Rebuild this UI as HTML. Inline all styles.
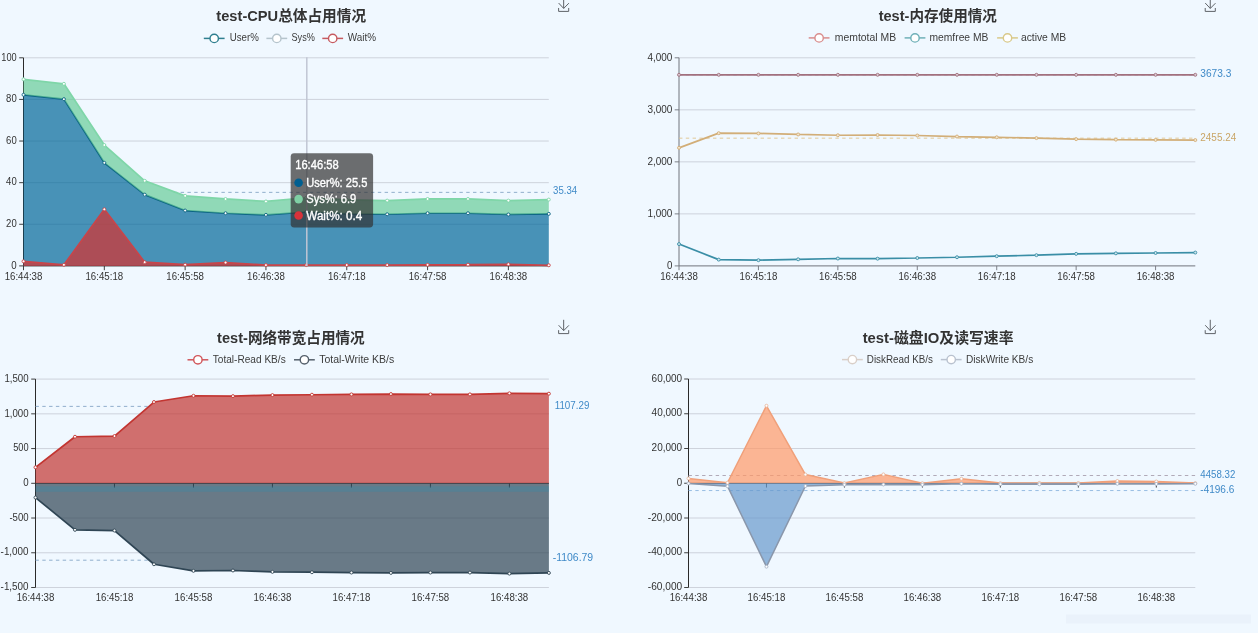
<!DOCTYPE html>
<html lang="zh-CN">
<head>
<meta charset="utf-8">
<title>test - 性能监控</title>
<style>
html,body{margin:0;padding:0;background:#f0f8ff;overflow:hidden}
body{width:1258px;height:633px;font-family:"Liberation Sans","Noto Sans CJK SC",sans-serif}
svg{display:block;filter:blur(0.35px)}
</style>
</head>
<body>
<svg width="1258" height="633" viewBox="0 0 1258 633" font-family='"Liberation Sans","Noto Sans CJK SC",sans-serif'>
<rect width="1258" height="633" fill="#f0f8ff"/>
<text x="291.2" y="21.3" font-size="14.7" fill="#333" text-anchor="middle" font-weight="bold" textLength="149.7" lengthAdjust="spacingAndGlyphs">test-CPU总体占用情况</text>
<line x1="203.8" y1="38.4" x2="224.6" y2="38.4" stroke="#2f7f8f" stroke-width="1.5"/>
<circle cx="214.2" cy="38.4" r="4.2" fill="#fff" stroke="#2f7f8f" stroke-width="1.4"/>
<text x="229.7" y="41.1" font-size="10.2" fill="#3c3c3c" textLength="29.1" lengthAdjust="spacingAndGlyphs">User%</text>
<line x1="266.4" y1="38.4" x2="287.2" y2="38.4" stroke="#b5c4cc" stroke-width="1.5"/>
<circle cx="276.8" cy="38.4" r="4.2" fill="#fff" stroke="#b5c4cc" stroke-width="1.4"/>
<text x="291.5" y="41.1" font-size="10.2" fill="#3c3c3c" textLength="23.4" lengthAdjust="spacingAndGlyphs">Sys%</text>
<line x1="322.3" y1="38.4" x2="343.1" y2="38.4" stroke="#c65a60" stroke-width="1.5"/>
<circle cx="332.7" cy="38.4" r="4.2" fill="#fff" stroke="#c65a60" stroke-width="1.4"/>
<text x="347.8" y="41.1" font-size="10.2" fill="#3c3c3c" textLength="28.3" lengthAdjust="spacingAndGlyphs">Wait%</text>
<g transform="translate(557.67,-2.4)" fill="none" stroke="#5f6368" stroke-width="1" stroke-linecap="butt">
<path d="M0.96,5.45 L6.01,10.83 L11.21,5.57 M0.94,10.37 L0.94,13.8 L11.03,13.8 L11.03,10.37 M5.99,10.73 L5.99,0"/></g>
<line x1="23.5" y1="224.28" x2="548.8" y2="224.28" stroke="#c9ced8" stroke-width="0.9"/>
<line x1="23.5" y1="182.66" x2="548.8" y2="182.66" stroke="#c9ced8" stroke-width="0.9"/>
<line x1="23.5" y1="141.04" x2="548.8" y2="141.04" stroke="#c9ced8" stroke-width="0.9"/>
<line x1="23.5" y1="99.42" x2="548.8" y2="99.42" stroke="#c9ced8" stroke-width="0.9"/>
<line x1="23.5" y1="57.8" x2="548.8" y2="57.8" stroke="#c9ced8" stroke-width="0.9"/>
<line x1="23.5" y1="57.8" x2="23.5" y2="265.9" stroke="#2a2a2a" stroke-width="1.0"/>
<line x1="19.2" y1="265.9" x2="23.5" y2="265.9" stroke="#2a2a2a" stroke-width="0.9"/>
<text x="16.7" y="268.6" font-size="10.5" fill="#333" text-anchor="end" textLength="5.4" lengthAdjust="spacingAndGlyphs">0</text>
<line x1="19.2" y1="224.28" x2="23.5" y2="224.28" stroke="#2a2a2a" stroke-width="0.9"/>
<text x="16.7" y="226.98" font-size="10.5" fill="#333" text-anchor="end" textLength="10.6" lengthAdjust="spacingAndGlyphs">20</text>
<line x1="19.2" y1="182.66" x2="23.5" y2="182.66" stroke="#2a2a2a" stroke-width="0.9"/>
<text x="16.7" y="185.36" font-size="10.5" fill="#333" text-anchor="end" textLength="10.6" lengthAdjust="spacingAndGlyphs">40</text>
<line x1="19.2" y1="141.04" x2="23.5" y2="141.04" stroke="#2a2a2a" stroke-width="0.9"/>
<text x="16.7" y="143.74" font-size="10.5" fill="#333" text-anchor="end" textLength="10.6" lengthAdjust="spacingAndGlyphs">60</text>
<line x1="19.2" y1="99.42" x2="23.5" y2="99.42" stroke="#2a2a2a" stroke-width="0.9"/>
<text x="16.7" y="102.12" font-size="10.5" fill="#333" text-anchor="end" textLength="10.6" lengthAdjust="spacingAndGlyphs">80</text>
<line x1="19.2" y1="57.8" x2="23.5" y2="57.8" stroke="#2a2a2a" stroke-width="0.9"/>
<text x="16.7" y="60.5" font-size="10.5" fill="#333" text-anchor="end" textLength="15.4" lengthAdjust="spacingAndGlyphs">100</text>
<line x1="23.5" y1="265.9" x2="548.8" y2="265.9" stroke="#2a2a2a" stroke-width="1.0"/>
<line x1="23.5" y1="265.9" x2="23.5" y2="270.2" stroke="#2a2a2a" stroke-width="0.9"/>
<text x="23.5" y="279.8" font-size="10.5" fill="#333" text-anchor="middle" textLength="37.7" lengthAdjust="spacingAndGlyphs">16:44:38</text>
<line x1="104.32" y1="265.9" x2="104.32" y2="270.2" stroke="#2a2a2a" stroke-width="0.9"/>
<text x="104.32" y="279.8" font-size="10.5" fill="#333" text-anchor="middle" textLength="37.7" lengthAdjust="spacingAndGlyphs">16:45:18</text>
<line x1="185.13" y1="265.9" x2="185.13" y2="270.2" stroke="#2a2a2a" stroke-width="0.9"/>
<text x="185.13" y="279.8" font-size="10.5" fill="#333" text-anchor="middle" textLength="37.7" lengthAdjust="spacingAndGlyphs">16:45:58</text>
<line x1="265.95" y1="265.9" x2="265.95" y2="270.2" stroke="#2a2a2a" stroke-width="0.9"/>
<text x="265.95" y="279.8" font-size="10.5" fill="#333" text-anchor="middle" textLength="37.7" lengthAdjust="spacingAndGlyphs">16:46:38</text>
<line x1="346.76" y1="265.9" x2="346.76" y2="270.2" stroke="#2a2a2a" stroke-width="0.9"/>
<text x="346.76" y="279.8" font-size="10.5" fill="#333" text-anchor="middle" textLength="37.7" lengthAdjust="spacingAndGlyphs">16:47:18</text>
<line x1="427.58" y1="265.9" x2="427.58" y2="270.2" stroke="#2a2a2a" stroke-width="0.9"/>
<text x="427.58" y="279.8" font-size="10.5" fill="#333" text-anchor="middle" textLength="37.7" lengthAdjust="spacingAndGlyphs">16:47:58</text>
<line x1="508.39" y1="265.9" x2="508.39" y2="270.2" stroke="#2a2a2a" stroke-width="0.9"/>
<text x="508.39" y="279.8" font-size="10.5" fill="#333" text-anchor="middle" textLength="37.7" lengthAdjust="spacingAndGlyphs">16:48:38</text>
<line x1="173.84" y1="192.36" x2="548.8" y2="192.36" stroke="#86a6c6" stroke-width="0.9" stroke-dasharray="3.4 3.4"/>
<path d="M23.5,94.79 L63.91,99.13 L104.32,162.8 L144.72,194.63 L185.13,210.54 L225.54,213.23 L265.95,214.89 L306.35,211.99 L346.76,213.85 L387.17,214.27 L427.58,213.23 L467.98,213.23 L508.39,214.47 L548.8,213.85 L548.8,265.9 L23.5,265.9Z" fill="#006699" fill-opacity="0.7"/>
<path d="M23.5,94.79 L63.91,99.13 L104.32,162.8 L144.72,194.63 L185.13,210.54 L225.54,213.23 L265.95,214.89 L306.35,211.99 L346.76,213.85 L387.17,214.27 L427.58,213.23 L467.98,213.23 L508.39,214.47 L548.8,213.85" fill="none" stroke="#0b6482" stroke-width="1.7" stroke-linejoin="bevel"/>
<path d="M23.5,79.29 L63.91,83.84 L104.32,145.02 L144.72,180.78 L185.13,195.87 L225.54,198.97 L265.95,201.45 L306.35,197.73 L346.76,199.8 L387.17,200.62 L427.58,198.97 L467.98,198.97 L508.39,200.62 L548.8,199.59 L548.8,213.85 L508.39,214.47 L467.98,213.23 L427.58,213.23 L387.17,214.27 L346.76,213.85 L306.35,211.99 L265.95,214.89 L225.54,213.23 L185.13,210.54 L144.72,194.63 L104.32,162.8 L63.91,99.13 L23.5,94.79Z" fill="#66cc99" fill-opacity="0.7"/>
<path d="M23.5,79.29 L63.91,83.84 L104.32,145.02 L144.72,180.78 L185.13,195.87 L225.54,198.97 L265.95,201.45 L306.35,197.73 L346.76,199.8 L387.17,200.62 L427.58,198.97 L467.98,198.97 L508.39,200.62 L548.8,199.59" fill="none" stroke="#7fd6a8" stroke-width="1.7" stroke-linejoin="bevel"/>
<path d="M23.5,261.32 L63.91,264.86 L104.32,209.3 L144.72,262.15 L185.13,264.65 L225.54,262.57 L265.95,265.07 L306.35,265.07 L346.76,265.07 L387.17,265.07 L427.58,264.86 L467.98,264.65 L508.39,264.24 L548.8,265.28 L548.8,265.9 L23.5,265.9Z" fill="#d9302c" fill-opacity="0.7"/>
<path d="M23.5,261.32 L63.91,264.86 L104.32,209.3 L144.72,262.15 L185.13,264.65 L225.54,262.57 L265.95,265.07 L306.35,265.07 L346.76,265.07 L387.17,265.07 L427.58,264.86 L467.98,264.65 L508.39,264.24 L548.8,265.28" fill="none" stroke="#c8454a" stroke-width="1.7" stroke-linejoin="bevel"/>
<circle cx="23.5" cy="94.79" r="1.5" fill="#fff" stroke="#0b6482" stroke-width="0.9"/>
<circle cx="63.91" cy="99.13" r="1.5" fill="#fff" stroke="#0b6482" stroke-width="0.9"/>
<circle cx="104.32" cy="162.8" r="1.5" fill="#fff" stroke="#0b6482" stroke-width="0.9"/>
<circle cx="144.72" cy="194.63" r="1.5" fill="#fff" stroke="#0b6482" stroke-width="0.9"/>
<circle cx="185.13" cy="210.54" r="1.5" fill="#fff" stroke="#0b6482" stroke-width="0.9"/>
<circle cx="225.54" cy="213.23" r="1.5" fill="#fff" stroke="#0b6482" stroke-width="0.9"/>
<circle cx="265.95" cy="214.89" r="1.5" fill="#fff" stroke="#0b6482" stroke-width="0.9"/>
<circle cx="306.35" cy="211.99" r="1.5" fill="#fff" stroke="#0b6482" stroke-width="0.9"/>
<circle cx="346.76" cy="213.85" r="1.5" fill="#fff" stroke="#0b6482" stroke-width="0.9"/>
<circle cx="387.17" cy="214.27" r="1.5" fill="#fff" stroke="#0b6482" stroke-width="0.9"/>
<circle cx="427.58" cy="213.23" r="1.5" fill="#fff" stroke="#0b6482" stroke-width="0.9"/>
<circle cx="467.98" cy="213.23" r="1.5" fill="#fff" stroke="#0b6482" stroke-width="0.9"/>
<circle cx="508.39" cy="214.47" r="1.5" fill="#fff" stroke="#0b6482" stroke-width="0.9"/>
<circle cx="548.8" cy="213.85" r="1.5" fill="#fff" stroke="#0b6482" stroke-width="0.9"/>
<circle cx="23.5" cy="79.29" r="1.5" fill="#fff" stroke="#7fd6a8" stroke-width="0.9"/>
<circle cx="63.91" cy="83.84" r="1.5" fill="#fff" stroke="#7fd6a8" stroke-width="0.9"/>
<circle cx="104.32" cy="145.02" r="1.5" fill="#fff" stroke="#7fd6a8" stroke-width="0.9"/>
<circle cx="144.72" cy="180.78" r="1.5" fill="#fff" stroke="#7fd6a8" stroke-width="0.9"/>
<circle cx="185.13" cy="195.87" r="1.5" fill="#fff" stroke="#7fd6a8" stroke-width="0.9"/>
<circle cx="225.54" cy="198.97" r="1.5" fill="#fff" stroke="#7fd6a8" stroke-width="0.9"/>
<circle cx="265.95" cy="201.45" r="1.5" fill="#fff" stroke="#7fd6a8" stroke-width="0.9"/>
<circle cx="306.35" cy="197.73" r="1.5" fill="#fff" stroke="#7fd6a8" stroke-width="0.9"/>
<circle cx="346.76" cy="199.8" r="1.5" fill="#fff" stroke="#7fd6a8" stroke-width="0.9"/>
<circle cx="387.17" cy="200.62" r="1.5" fill="#fff" stroke="#7fd6a8" stroke-width="0.9"/>
<circle cx="427.58" cy="198.97" r="1.5" fill="#fff" stroke="#7fd6a8" stroke-width="0.9"/>
<circle cx="467.98" cy="198.97" r="1.5" fill="#fff" stroke="#7fd6a8" stroke-width="0.9"/>
<circle cx="508.39" cy="200.62" r="1.5" fill="#fff" stroke="#7fd6a8" stroke-width="0.9"/>
<circle cx="548.8" cy="199.59" r="1.5" fill="#fff" stroke="#7fd6a8" stroke-width="0.9"/>
<circle cx="23.5" cy="261.32" r="1.5" fill="#fff" stroke="#c8454a" stroke-width="0.9"/>
<circle cx="63.91" cy="264.86" r="1.5" fill="#fff" stroke="#c8454a" stroke-width="0.9"/>
<circle cx="104.32" cy="209.3" r="1.5" fill="#fff" stroke="#c8454a" stroke-width="0.9"/>
<circle cx="144.72" cy="262.15" r="1.5" fill="#fff" stroke="#c8454a" stroke-width="0.9"/>
<circle cx="185.13" cy="264.65" r="1.5" fill="#fff" stroke="#c8454a" stroke-width="0.9"/>
<circle cx="225.54" cy="262.57" r="1.5" fill="#fff" stroke="#c8454a" stroke-width="0.9"/>
<circle cx="265.95" cy="265.07" r="1.5" fill="#fff" stroke="#c8454a" stroke-width="0.9"/>
<circle cx="306.35" cy="265.07" r="1.5" fill="#fff" stroke="#c8454a" stroke-width="0.9"/>
<circle cx="346.76" cy="265.07" r="1.5" fill="#fff" stroke="#c8454a" stroke-width="0.9"/>
<circle cx="387.17" cy="265.07" r="1.5" fill="#fff" stroke="#c8454a" stroke-width="0.9"/>
<circle cx="427.58" cy="264.86" r="1.5" fill="#fff" stroke="#c8454a" stroke-width="0.9"/>
<circle cx="467.98" cy="264.65" r="1.5" fill="#fff" stroke="#c8454a" stroke-width="0.9"/>
<circle cx="508.39" cy="264.24" r="1.5" fill="#fff" stroke="#c8454a" stroke-width="0.9"/>
<circle cx="548.8" cy="265.28" r="1.5" fill="#fff" stroke="#c8454a" stroke-width="0.9"/>
<text x="553.1" y="193.96" font-size="10.3" fill="#3f8ac8" textLength="24" lengthAdjust="spacingAndGlyphs">35.34</text>
<line x1="306.8" y1="57.3" x2="306.8" y2="265.9" stroke="#c0c6d4" stroke-width="1.5"/>
<rect x="290.7" y="153.2" width="82.4" height="74.2" rx="3.4" fill="#323232" fill-opacity="0.7"/>
<text x="295.2" y="169.1" font-size="12" fill="#fff" textLength="43.5" lengthAdjust="spacingAndGlyphs" stroke="#fff" stroke-width="0.35">16:46:58</text>
<circle cx="298.6" cy="182.7" r="4.3" fill="#005f91"/>
<text x="306.3" y="186.9" font-size="12" fill="#fff" textLength="61" lengthAdjust="spacingAndGlyphs" stroke="#fff" stroke-width="0.35">User%: 25.5</text>
<circle cx="298.6" cy="199.1" r="4.3" fill="#7fd0a4"/>
<text x="306.3" y="203.3" font-size="12" fill="#fff" textLength="50" lengthAdjust="spacingAndGlyphs" stroke="#fff" stroke-width="0.35">Sys%: 6.9</text>
<circle cx="298.6" cy="215.5" r="4.3" fill="#d8323a"/>
<text x="306.3" y="219.7" font-size="12" fill="#fff" textLength="56" lengthAdjust="spacingAndGlyphs" stroke="#fff" stroke-width="0.35">Wait%: 0.4</text>
<text x="937.8" y="21.3" font-size="14.7" fill="#333" text-anchor="middle" font-weight="bold" textLength="118.3" lengthAdjust="spacingAndGlyphs">test-内存使用情况</text>
<line x1="808.7" y1="37.9" x2="829.5" y2="37.9" stroke="#d98d8d" stroke-width="1.5"/>
<circle cx="819.1" cy="37.9" r="4.2" fill="#fff" stroke="#d98d8d" stroke-width="1.4"/>
<text x="834.8" y="41.1" font-size="10.2" fill="#3c3c3c" textLength="61.3" lengthAdjust="spacingAndGlyphs">memtotal MB</text>
<line x1="904.6" y1="37.9" x2="925.4" y2="37.9" stroke="#6fb0b8" stroke-width="1.5"/>
<circle cx="915" cy="37.9" r="4.2" fill="#fff" stroke="#6fb0b8" stroke-width="1.4"/>
<text x="929.5" y="41.1" font-size="10.2" fill="#3c3c3c" textLength="58.9" lengthAdjust="spacingAndGlyphs">memfree MB</text>
<line x1="997.1" y1="37.9" x2="1017.9" y2="37.9" stroke="#d9c98a" stroke-width="1.5"/>
<circle cx="1007.5" cy="37.9" r="4.2" fill="#fff" stroke="#d9c98a" stroke-width="1.4"/>
<text x="1020.9" y="41.1" font-size="10.2" fill="#3c3c3c" textLength="45.3" lengthAdjust="spacingAndGlyphs">active MB</text>
<g transform="translate(1204.27,-2.4)" fill="none" stroke="#5f6368" stroke-width="1" stroke-linecap="butt">
<path d="M0.96,5.45 L6.01,10.83 L11.21,5.57 M0.94,10.37 L0.94,13.8 L11.03,13.8 L11.03,10.37 M5.99,10.73 L5.99,0"/></g>
<line x1="679" y1="213.88" x2="1195.3" y2="213.88" stroke="#c9ced8" stroke-width="0.9"/>
<line x1="679" y1="161.85" x2="1195.3" y2="161.85" stroke="#c9ced8" stroke-width="0.9"/>
<line x1="679" y1="109.83" x2="1195.3" y2="109.83" stroke="#c9ced8" stroke-width="0.9"/>
<line x1="679" y1="57.8" x2="1195.3" y2="57.8" stroke="#c9ced8" stroke-width="0.9"/>
<line x1="679" y1="57.8" x2="679" y2="265.9" stroke="#70747c" stroke-width="1.0"/>
<line x1="674.7" y1="265.9" x2="679" y2="265.9" stroke="#70747c" stroke-width="0.9"/>
<text x="672.4" y="268.6" font-size="10.5" fill="#333" text-anchor="end" textLength="5.4" lengthAdjust="spacingAndGlyphs">0</text>
<line x1="674.7" y1="213.88" x2="679" y2="213.88" stroke="#70747c" stroke-width="0.9"/>
<text x="672.4" y="216.57" font-size="10.5" fill="#333" text-anchor="end" textLength="25" lengthAdjust="spacingAndGlyphs">1,000</text>
<line x1="674.7" y1="161.85" x2="679" y2="161.85" stroke="#70747c" stroke-width="0.9"/>
<text x="672.4" y="164.55" font-size="10.5" fill="#333" text-anchor="end" textLength="25" lengthAdjust="spacingAndGlyphs">2,000</text>
<line x1="674.7" y1="109.83" x2="679" y2="109.83" stroke="#70747c" stroke-width="0.9"/>
<text x="672.4" y="112.53" font-size="10.5" fill="#333" text-anchor="end" textLength="25" lengthAdjust="spacingAndGlyphs">3,000</text>
<line x1="674.7" y1="57.8" x2="679" y2="57.8" stroke="#70747c" stroke-width="0.9"/>
<text x="672.4" y="60.5" font-size="10.5" fill="#333" text-anchor="end" textLength="25" lengthAdjust="spacingAndGlyphs">4,000</text>
<line x1="679" y1="265.9" x2="1195.3" y2="265.9" stroke="#70747c" stroke-width="1.0"/>
<line x1="679" y1="265.9" x2="679" y2="270.2" stroke="#70747c" stroke-width="0.9"/>
<text x="679" y="279.9" font-size="10.5" fill="#333" text-anchor="middle" textLength="37.7" lengthAdjust="spacingAndGlyphs">16:44:38</text>
<line x1="758.43" y1="265.9" x2="758.43" y2="270.2" stroke="#70747c" stroke-width="0.9"/>
<text x="758.43" y="279.9" font-size="10.5" fill="#333" text-anchor="middle" textLength="37.7" lengthAdjust="spacingAndGlyphs">16:45:18</text>
<line x1="837.86" y1="265.9" x2="837.86" y2="270.2" stroke="#70747c" stroke-width="0.9"/>
<text x="837.86" y="279.9" font-size="10.5" fill="#333" text-anchor="middle" textLength="37.7" lengthAdjust="spacingAndGlyphs">16:45:58</text>
<line x1="917.29" y1="265.9" x2="917.29" y2="270.2" stroke="#70747c" stroke-width="0.9"/>
<text x="917.29" y="279.9" font-size="10.5" fill="#333" text-anchor="middle" textLength="37.7" lengthAdjust="spacingAndGlyphs">16:46:38</text>
<line x1="996.72" y1="265.9" x2="996.72" y2="270.2" stroke="#70747c" stroke-width="0.9"/>
<text x="996.72" y="279.9" font-size="10.5" fill="#333" text-anchor="middle" textLength="37.7" lengthAdjust="spacingAndGlyphs">16:47:18</text>
<line x1="1076.15" y1="265.9" x2="1076.15" y2="270.2" stroke="#70747c" stroke-width="0.9"/>
<text x="1076.15" y="279.9" font-size="10.5" fill="#333" text-anchor="middle" textLength="37.7" lengthAdjust="spacingAndGlyphs">16:47:58</text>
<line x1="1155.58" y1="265.9" x2="1155.58" y2="270.2" stroke="#70747c" stroke-width="0.9"/>
<text x="1155.58" y="279.9" font-size="10.5" fill="#333" text-anchor="middle" textLength="37.7" lengthAdjust="spacingAndGlyphs">16:48:38</text>
<line x1="679" y1="74.8" x2="1195.3" y2="74.8" stroke="#7f9fd0" stroke-width="0.9" stroke-dasharray="3.4 3.4"/>
<path d="M679,74.8 L718.72,74.8 L758.43,74.8 L798.15,74.8 L837.86,74.8 L877.58,74.8 L917.29,74.8 L957.01,74.8 L996.72,74.8 L1036.44,74.8 L1076.15,74.8 L1115.87,74.8 L1155.58,74.8 L1195.3,74.8" fill="none" stroke="#a2707e" stroke-width="1.7" stroke-linejoin="bevel"/>
<circle cx="679" cy="74.8" r="1.5" fill="#d9ccd4" stroke="#a2707e" stroke-width="0.9"/>
<circle cx="718.72" cy="74.8" r="1.5" fill="#d9ccd4" stroke="#a2707e" stroke-width="0.9"/>
<circle cx="758.43" cy="74.8" r="1.5" fill="#d9ccd4" stroke="#a2707e" stroke-width="0.9"/>
<circle cx="798.15" cy="74.8" r="1.5" fill="#d9ccd4" stroke="#a2707e" stroke-width="0.9"/>
<circle cx="837.86" cy="74.8" r="1.5" fill="#d9ccd4" stroke="#a2707e" stroke-width="0.9"/>
<circle cx="877.58" cy="74.8" r="1.5" fill="#d9ccd4" stroke="#a2707e" stroke-width="0.9"/>
<circle cx="917.29" cy="74.8" r="1.5" fill="#d9ccd4" stroke="#a2707e" stroke-width="0.9"/>
<circle cx="957.01" cy="74.8" r="1.5" fill="#d9ccd4" stroke="#a2707e" stroke-width="0.9"/>
<circle cx="996.72" cy="74.8" r="1.5" fill="#d9ccd4" stroke="#a2707e" stroke-width="0.9"/>
<circle cx="1036.44" cy="74.8" r="1.5" fill="#d9ccd4" stroke="#a2707e" stroke-width="0.9"/>
<circle cx="1076.15" cy="74.8" r="1.5" fill="#d9ccd4" stroke="#a2707e" stroke-width="0.9"/>
<circle cx="1115.87" cy="74.8" r="1.5" fill="#d9ccd4" stroke="#a2707e" stroke-width="0.9"/>
<circle cx="1155.58" cy="74.8" r="1.5" fill="#d9ccd4" stroke="#a2707e" stroke-width="0.9"/>
<circle cx="1195.3" cy="74.8" r="1.5" fill="#d9ccd4" stroke="#a2707e" stroke-width="0.9"/>
<path d="M679,244.07 L718.72,259.61 L758.43,260.18 L798.15,259.3 L837.86,258.52 L877.58,258.68 L917.29,258.01 L957.01,257.23 L996.72,256.19 L1036.44,255.16 L1076.15,253.86 L1115.87,253.34 L1155.58,252.98 L1195.3,252.57" fill="none" stroke="#3a8ea6" stroke-width="1.7" stroke-linejoin="bevel"/>
<circle cx="679" cy="244.07" r="1.5" fill="#cfe6ee" stroke="#3a8ea6" stroke-width="0.9"/>
<circle cx="718.72" cy="259.61" r="1.5" fill="#cfe6ee" stroke="#3a8ea6" stroke-width="0.9"/>
<circle cx="758.43" cy="260.18" r="1.5" fill="#cfe6ee" stroke="#3a8ea6" stroke-width="0.9"/>
<circle cx="798.15" cy="259.3" r="1.5" fill="#cfe6ee" stroke="#3a8ea6" stroke-width="0.9"/>
<circle cx="837.86" cy="258.52" r="1.5" fill="#cfe6ee" stroke="#3a8ea6" stroke-width="0.9"/>
<circle cx="877.58" cy="258.68" r="1.5" fill="#cfe6ee" stroke="#3a8ea6" stroke-width="0.9"/>
<circle cx="917.29" cy="258.01" r="1.5" fill="#cfe6ee" stroke="#3a8ea6" stroke-width="0.9"/>
<circle cx="957.01" cy="257.23" r="1.5" fill="#cfe6ee" stroke="#3a8ea6" stroke-width="0.9"/>
<circle cx="996.72" cy="256.19" r="1.5" fill="#cfe6ee" stroke="#3a8ea6" stroke-width="0.9"/>
<circle cx="1036.44" cy="255.16" r="1.5" fill="#cfe6ee" stroke="#3a8ea6" stroke-width="0.9"/>
<circle cx="1076.15" cy="253.86" r="1.5" fill="#cfe6ee" stroke="#3a8ea6" stroke-width="0.9"/>
<circle cx="1115.87" cy="253.34" r="1.5" fill="#cfe6ee" stroke="#3a8ea6" stroke-width="0.9"/>
<circle cx="1155.58" cy="252.98" r="1.5" fill="#cfe6ee" stroke="#3a8ea6" stroke-width="0.9"/>
<circle cx="1195.3" cy="252.57" r="1.5" fill="#cfe6ee" stroke="#3a8ea6" stroke-width="0.9"/>
<line x1="679" y1="138.17" x2="1195.3" y2="138.17" stroke="#e0c48c" stroke-width="0.9" stroke-dasharray="3.4 3.4"/>
<path d="M679,147.83 L718.72,133.17 L758.43,133.43 L798.15,134.46 L837.86,135.24 L877.58,134.98 L917.29,135.5 L957.01,136.54 L996.72,137.31 L1036.44,138.09 L1076.15,139.13 L1115.87,139.64 L1155.58,139.9 L1195.3,140.06" fill="none" stroke="#d2ae78" stroke-width="1.7" stroke-linejoin="bevel"/>
<circle cx="679" cy="147.83" r="1.5" fill="#f3e6cf" stroke="#d2ae78" stroke-width="0.9"/>
<circle cx="718.72" cy="133.17" r="1.5" fill="#f3e6cf" stroke="#d2ae78" stroke-width="0.9"/>
<circle cx="758.43" cy="133.43" r="1.5" fill="#f3e6cf" stroke="#d2ae78" stroke-width="0.9"/>
<circle cx="798.15" cy="134.46" r="1.5" fill="#f3e6cf" stroke="#d2ae78" stroke-width="0.9"/>
<circle cx="837.86" cy="135.24" r="1.5" fill="#f3e6cf" stroke="#d2ae78" stroke-width="0.9"/>
<circle cx="877.58" cy="134.98" r="1.5" fill="#f3e6cf" stroke="#d2ae78" stroke-width="0.9"/>
<circle cx="917.29" cy="135.5" r="1.5" fill="#f3e6cf" stroke="#d2ae78" stroke-width="0.9"/>
<circle cx="957.01" cy="136.54" r="1.5" fill="#f3e6cf" stroke="#d2ae78" stroke-width="0.9"/>
<circle cx="996.72" cy="137.31" r="1.5" fill="#f3e6cf" stroke="#d2ae78" stroke-width="0.9"/>
<circle cx="1036.44" cy="138.09" r="1.5" fill="#f3e6cf" stroke="#d2ae78" stroke-width="0.9"/>
<circle cx="1076.15" cy="139.13" r="1.5" fill="#f3e6cf" stroke="#d2ae78" stroke-width="0.9"/>
<circle cx="1115.87" cy="139.64" r="1.5" fill="#f3e6cf" stroke="#d2ae78" stroke-width="0.9"/>
<circle cx="1155.58" cy="139.9" r="1.5" fill="#f3e6cf" stroke="#d2ae78" stroke-width="0.9"/>
<circle cx="1195.3" cy="140.06" r="1.5" fill="#f3e6cf" stroke="#d2ae78" stroke-width="0.9"/>
<text x="1200.3" y="77.2" font-size="10.3" fill="#3f8ac8" textLength="31" lengthAdjust="spacingAndGlyphs">3673.3</text>
<text x="1200.3" y="140.87" font-size="10.3" fill="#c9a566" textLength="36" lengthAdjust="spacingAndGlyphs">2455.24</text>
<text x="290.9" y="343.1" font-size="14.7" fill="#333" text-anchor="middle" font-weight="bold" textLength="147.6" lengthAdjust="spacingAndGlyphs">test-网络带宽占用情况</text>
<line x1="187.5" y1="359.8" x2="208.3" y2="359.8" stroke="#d0555a" stroke-width="1.5"/>
<circle cx="197.9" cy="359.8" r="4.2" fill="#fff" stroke="#d0555a" stroke-width="1.4"/>
<text x="212.8" y="363.4" font-size="10.2" fill="#3c3c3c" textLength="72.9" lengthAdjust="spacingAndGlyphs">Total-Read KB/s</text>
<line x1="294" y1="359.8" x2="314.8" y2="359.8" stroke="#55606c" stroke-width="1.5"/>
<circle cx="304.4" cy="359.8" r="4.2" fill="#fff" stroke="#55606c" stroke-width="1.4"/>
<text x="319.2" y="363.4" font-size="10.2" fill="#3c3c3c" textLength="75.1" lengthAdjust="spacingAndGlyphs">Total-Write KB/s</text>
<g transform="translate(557.67,319.8)" fill="none" stroke="#5f6368" stroke-width="1" stroke-linecap="butt">
<path d="M0.96,5.45 L6.01,10.83 L11.21,5.57 M0.94,10.37 L0.94,13.8 L11.03,13.8 L11.03,10.37 M5.99,10.73 L5.99,0"/></g>
<line x1="35.5" y1="587.5" x2="548.9" y2="587.5" stroke="#c9ced8" stroke-width="0.9"/>
<line x1="35.5" y1="552.77" x2="548.9" y2="552.77" stroke="#c9ced8" stroke-width="0.9"/>
<line x1="35.5" y1="518.03" x2="548.9" y2="518.03" stroke="#c9ced8" stroke-width="0.9"/>
<line x1="35.5" y1="448.57" x2="548.9" y2="448.57" stroke="#c9ced8" stroke-width="0.9"/>
<line x1="35.5" y1="413.83" x2="548.9" y2="413.83" stroke="#c9ced8" stroke-width="0.9"/>
<line x1="35.5" y1="379.1" x2="548.9" y2="379.1" stroke="#c9ced8" stroke-width="0.9"/>
<line x1="35.5" y1="379.1" x2="35.5" y2="587.5" stroke="#2a2a2a" stroke-width="1.0"/>
<line x1="31.2" y1="587.5" x2="35.5" y2="587.5" stroke="#2a2a2a" stroke-width="0.9"/>
<text x="28.6" y="590.2" font-size="10.5" fill="#333" text-anchor="end" textLength="28" lengthAdjust="spacingAndGlyphs">-1,500</text>
<line x1="31.2" y1="552.77" x2="35.5" y2="552.77" stroke="#2a2a2a" stroke-width="0.9"/>
<text x="28.6" y="555.47" font-size="10.5" fill="#333" text-anchor="end" textLength="28" lengthAdjust="spacingAndGlyphs">-1,000</text>
<line x1="31.2" y1="518.03" x2="35.5" y2="518.03" stroke="#2a2a2a" stroke-width="0.9"/>
<text x="28.6" y="520.73" font-size="10.5" fill="#333" text-anchor="end" textLength="19.2" lengthAdjust="spacingAndGlyphs">-500</text>
<line x1="31.2" y1="483.3" x2="35.5" y2="483.3" stroke="#2a2a2a" stroke-width="0.9"/>
<text x="28.6" y="486" font-size="10.5" fill="#333" text-anchor="end" textLength="5.4" lengthAdjust="spacingAndGlyphs">0</text>
<line x1="31.2" y1="448.57" x2="35.5" y2="448.57" stroke="#2a2a2a" stroke-width="0.9"/>
<text x="28.6" y="451.27" font-size="10.5" fill="#333" text-anchor="end" textLength="15.4" lengthAdjust="spacingAndGlyphs">500</text>
<line x1="31.2" y1="413.83" x2="35.5" y2="413.83" stroke="#2a2a2a" stroke-width="0.9"/>
<text x="28.6" y="416.53" font-size="10.5" fill="#333" text-anchor="end" textLength="24.2" lengthAdjust="spacingAndGlyphs">1,000</text>
<line x1="31.2" y1="379.1" x2="35.5" y2="379.1" stroke="#2a2a2a" stroke-width="0.9"/>
<text x="28.6" y="381.8" font-size="10.5" fill="#333" text-anchor="end" textLength="24.2" lengthAdjust="spacingAndGlyphs">1,500</text>
<line x1="35.5" y1="483.3" x2="548.9" y2="483.3" stroke="#2a2a2a" stroke-width="1.0"/>
<line x1="35.5" y1="483.3" x2="35.5" y2="487.6" stroke="#2a2a2a" stroke-width="0.9"/>
<text x="35.5" y="600.7" font-size="10.5" fill="#333" text-anchor="middle" textLength="37.7" lengthAdjust="spacingAndGlyphs">16:44:38</text>
<line x1="114.48" y1="483.3" x2="114.48" y2="487.6" stroke="#2a2a2a" stroke-width="0.9"/>
<text x="114.48" y="600.7" font-size="10.5" fill="#333" text-anchor="middle" textLength="37.7" lengthAdjust="spacingAndGlyphs">16:45:18</text>
<line x1="193.47" y1="483.3" x2="193.47" y2="487.6" stroke="#2a2a2a" stroke-width="0.9"/>
<text x="193.47" y="600.7" font-size="10.5" fill="#333" text-anchor="middle" textLength="37.7" lengthAdjust="spacingAndGlyphs">16:45:58</text>
<line x1="272.45" y1="483.3" x2="272.45" y2="487.6" stroke="#2a2a2a" stroke-width="0.9"/>
<text x="272.45" y="600.7" font-size="10.5" fill="#333" text-anchor="middle" textLength="37.7" lengthAdjust="spacingAndGlyphs">16:46:38</text>
<line x1="351.44" y1="483.3" x2="351.44" y2="487.6" stroke="#2a2a2a" stroke-width="0.9"/>
<text x="351.44" y="600.7" font-size="10.5" fill="#333" text-anchor="middle" textLength="37.7" lengthAdjust="spacingAndGlyphs">16:47:18</text>
<line x1="430.42" y1="483.3" x2="430.42" y2="487.6" stroke="#2a2a2a" stroke-width="0.9"/>
<text x="430.42" y="600.7" font-size="10.5" fill="#333" text-anchor="middle" textLength="37.7" lengthAdjust="spacingAndGlyphs">16:47:58</text>
<line x1="509.41" y1="483.3" x2="509.41" y2="487.6" stroke="#2a2a2a" stroke-width="0.9"/>
<text x="509.41" y="600.7" font-size="10.5" fill="#333" text-anchor="middle" textLength="37.7" lengthAdjust="spacingAndGlyphs">16:48:38</text>
<line x1="35.5" y1="406.38" x2="148.92" y2="406.38" stroke="#86a6c6" stroke-width="0.9" stroke-dasharray="3.4 3.4"/>
<line x1="35.5" y1="560.19" x2="149.24" y2="560.19" stroke="#86a6c6" stroke-width="0.9" stroke-dasharray="3.4 3.4"/>
<path d="M35.5,467.32 L74.99,436.76 L114.48,436.06 L153.98,402.02 L193.47,395.77 L232.96,396.12 L272.45,395.08 L311.95,394.73 L351.44,394.38 L390.93,394.04 L430.42,394.38 L469.92,394.38 L509.41,393.34 L548.9,393.69 L548.9,483.3 L35.5,483.3Z" fill="#c23531" fill-opacity="0.7"/>
<path d="M35.5,467.32 L74.99,436.76 L114.48,436.06 L153.98,402.02 L193.47,395.77 L232.96,396.12 L272.45,395.08 L311.95,394.73 L351.44,394.38 L390.93,394.04 L430.42,394.38 L469.92,394.38 L509.41,393.34 L548.9,393.69" fill="none" stroke="#c23531" stroke-width="1.7" stroke-linejoin="bevel"/>
<path d="M35.5,497.54 L74.99,529.84 L114.48,530.54 L153.98,564.23 L193.47,570.83 L232.96,570.48 L272.45,571.87 L311.95,572.22 L351.44,572.56 L390.93,572.91 L430.42,572.56 L469.92,572.56 L509.41,573.61 L548.9,572.91 L548.9,483.3 L35.5,483.3Z" fill="#2f4554" fill-opacity="0.7"/>
<path d="M35.5,497.54 L74.99,529.84 L114.48,530.54 L153.98,564.23 L193.47,570.83 L232.96,570.48 L272.45,571.87 L311.95,572.22 L351.44,572.56 L390.93,572.91 L430.42,572.56 L469.92,572.56 L509.41,573.61 L548.9,572.91" fill="none" stroke="#2f4554" stroke-width="1.7" stroke-linejoin="bevel"/>
<rect x="35.5" y="486.3" width="513.4" height="5.5" fill="#2e8db0" fill-opacity="0.3"/>
<circle cx="35.5" cy="467.32" r="1.5" fill="#fff" stroke="#c23531" stroke-width="0.9"/>
<circle cx="74.99" cy="436.76" r="1.5" fill="#fff" stroke="#c23531" stroke-width="0.9"/>
<circle cx="114.48" cy="436.06" r="1.5" fill="#fff" stroke="#c23531" stroke-width="0.9"/>
<circle cx="153.98" cy="402.02" r="1.5" fill="#fff" stroke="#c23531" stroke-width="0.9"/>
<circle cx="193.47" cy="395.77" r="1.5" fill="#fff" stroke="#c23531" stroke-width="0.9"/>
<circle cx="232.96" cy="396.12" r="1.5" fill="#fff" stroke="#c23531" stroke-width="0.9"/>
<circle cx="272.45" cy="395.08" r="1.5" fill="#fff" stroke="#c23531" stroke-width="0.9"/>
<circle cx="311.95" cy="394.73" r="1.5" fill="#fff" stroke="#c23531" stroke-width="0.9"/>
<circle cx="351.44" cy="394.38" r="1.5" fill="#fff" stroke="#c23531" stroke-width="0.9"/>
<circle cx="390.93" cy="394.04" r="1.5" fill="#fff" stroke="#c23531" stroke-width="0.9"/>
<circle cx="430.42" cy="394.38" r="1.5" fill="#fff" stroke="#c23531" stroke-width="0.9"/>
<circle cx="469.92" cy="394.38" r="1.5" fill="#fff" stroke="#c23531" stroke-width="0.9"/>
<circle cx="509.41" cy="393.34" r="1.5" fill="#fff" stroke="#c23531" stroke-width="0.9"/>
<circle cx="548.9" cy="393.69" r="1.5" fill="#fff" stroke="#c23531" stroke-width="0.9"/>
<circle cx="35.5" cy="497.54" r="1.5" fill="#fff" stroke="#2f4554" stroke-width="0.9"/>
<circle cx="74.99" cy="529.84" r="1.5" fill="#fff" stroke="#2f4554" stroke-width="0.9"/>
<circle cx="114.48" cy="530.54" r="1.5" fill="#fff" stroke="#2f4554" stroke-width="0.9"/>
<circle cx="153.98" cy="564.23" r="1.5" fill="#fff" stroke="#2f4554" stroke-width="0.9"/>
<circle cx="193.47" cy="570.83" r="1.5" fill="#fff" stroke="#2f4554" stroke-width="0.9"/>
<circle cx="232.96" cy="570.48" r="1.5" fill="#fff" stroke="#2f4554" stroke-width="0.9"/>
<circle cx="272.45" cy="571.87" r="1.5" fill="#fff" stroke="#2f4554" stroke-width="0.9"/>
<circle cx="311.95" cy="572.22" r="1.5" fill="#fff" stroke="#2f4554" stroke-width="0.9"/>
<circle cx="351.44" cy="572.56" r="1.5" fill="#fff" stroke="#2f4554" stroke-width="0.9"/>
<circle cx="390.93" cy="572.91" r="1.5" fill="#fff" stroke="#2f4554" stroke-width="0.9"/>
<circle cx="430.42" cy="572.56" r="1.5" fill="#fff" stroke="#2f4554" stroke-width="0.9"/>
<circle cx="469.92" cy="572.56" r="1.5" fill="#fff" stroke="#2f4554" stroke-width="0.9"/>
<circle cx="509.41" cy="573.61" r="1.5" fill="#fff" stroke="#2f4554" stroke-width="0.9"/>
<circle cx="548.9" cy="572.91" r="1.5" fill="#fff" stroke="#2f4554" stroke-width="0.9"/>
<text x="554.7" y="408.58" font-size="10.3" fill="#3f8ac8" textLength="34.7" lengthAdjust="spacingAndGlyphs">1107.29</text>
<text x="552.7" y="561.29" font-size="10.3" fill="#3f8ac8" textLength="40.5" lengthAdjust="spacingAndGlyphs">-1106.79</text>
<text x="938.1" y="343.1" font-size="14.7" fill="#333" text-anchor="middle" font-weight="bold" textLength="150.9" lengthAdjust="spacingAndGlyphs">test-磁盘IO及读写速率</text>
<line x1="842" y1="359.6" x2="862.8" y2="359.6" stroke="#d9cfc8" stroke-width="1.5"/>
<circle cx="852.4" cy="359.6" r="4.2" fill="#fff" stroke="#d9cfc8" stroke-width="1.4"/>
<text x="866.8" y="363.2" font-size="10.2" fill="#3c3c3c" textLength="66.2" lengthAdjust="spacingAndGlyphs">DiskRead KB/s</text>
<line x1="940.8" y1="359.6" x2="961.6" y2="359.6" stroke="#b9c2cf" stroke-width="1.5"/>
<circle cx="951.2" cy="359.6" r="4.2" fill="#fff" stroke="#b9c2cf" stroke-width="1.4"/>
<text x="966" y="363.2" font-size="10.2" fill="#3c3c3c" textLength="67.2" lengthAdjust="spacingAndGlyphs">DiskWrite KB/s</text>
<g transform="translate(1204.27,319.8)" fill="none" stroke="#5f6368" stroke-width="1" stroke-linecap="butt">
<path d="M0.96,5.45 L6.01,10.83 L11.21,5.57 M0.94,10.37 L0.94,13.8 L11.03,13.8 L11.03,10.37 M5.99,10.73 L5.99,0"/></g>
<line x1="688.5" y1="587.5" x2="1195.3" y2="587.5" stroke="#c9ced8" stroke-width="0.9"/>
<line x1="688.5" y1="552.75" x2="1195.3" y2="552.75" stroke="#c9ced8" stroke-width="0.9"/>
<line x1="688.5" y1="518" x2="1195.3" y2="518" stroke="#c9ced8" stroke-width="0.9"/>
<line x1="688.5" y1="448.5" x2="1195.3" y2="448.5" stroke="#c9ced8" stroke-width="0.9"/>
<line x1="688.5" y1="413.75" x2="1195.3" y2="413.75" stroke="#c9ced8" stroke-width="0.9"/>
<line x1="688.5" y1="379" x2="1195.3" y2="379" stroke="#c9ced8" stroke-width="0.9"/>
<line x1="688.5" y1="379" x2="688.5" y2="587.5" stroke="#2a2a2a" stroke-width="1.0"/>
<line x1="684.2" y1="587.5" x2="688.5" y2="587.5" stroke="#2a2a2a" stroke-width="0.9"/>
<text x="682.2" y="590.2" font-size="10.5" fill="#333" text-anchor="end" textLength="34.4" lengthAdjust="spacingAndGlyphs">-60,000</text>
<line x1="684.2" y1="552.75" x2="688.5" y2="552.75" stroke="#2a2a2a" stroke-width="0.9"/>
<text x="682.2" y="555.45" font-size="10.5" fill="#333" text-anchor="end" textLength="34.4" lengthAdjust="spacingAndGlyphs">-40,000</text>
<line x1="684.2" y1="518" x2="688.5" y2="518" stroke="#2a2a2a" stroke-width="0.9"/>
<text x="682.2" y="520.7" font-size="10.5" fill="#333" text-anchor="end" textLength="34.4" lengthAdjust="spacingAndGlyphs">-20,000</text>
<line x1="684.2" y1="483.25" x2="688.5" y2="483.25" stroke="#2a2a2a" stroke-width="0.9"/>
<text x="682.2" y="485.95" font-size="10.5" fill="#333" text-anchor="end" textLength="5.4" lengthAdjust="spacingAndGlyphs">0</text>
<line x1="684.2" y1="448.5" x2="688.5" y2="448.5" stroke="#2a2a2a" stroke-width="0.9"/>
<text x="682.2" y="451.2" font-size="10.5" fill="#333" text-anchor="end" textLength="30.6" lengthAdjust="spacingAndGlyphs">20,000</text>
<line x1="684.2" y1="413.75" x2="688.5" y2="413.75" stroke="#2a2a2a" stroke-width="0.9"/>
<text x="682.2" y="416.45" font-size="10.5" fill="#333" text-anchor="end" textLength="30.6" lengthAdjust="spacingAndGlyphs">40,000</text>
<line x1="684.2" y1="379" x2="688.5" y2="379" stroke="#2a2a2a" stroke-width="0.9"/>
<text x="682.2" y="381.7" font-size="10.5" fill="#333" text-anchor="end" textLength="30.6" lengthAdjust="spacingAndGlyphs">60,000</text>
<line x1="688.5" y1="483.25" x2="1195.3" y2="483.25" stroke="#2a2a2a" stroke-width="1.0"/>
<line x1="688.5" y1="483.25" x2="688.5" y2="487.55" stroke="#2a2a2a" stroke-width="0.9"/>
<text x="688.5" y="600.7" font-size="10.5" fill="#333" text-anchor="middle" textLength="37.7" lengthAdjust="spacingAndGlyphs">16:44:38</text>
<line x1="766.47" y1="483.25" x2="766.47" y2="487.55" stroke="#2a2a2a" stroke-width="0.9"/>
<text x="766.47" y="600.7" font-size="10.5" fill="#333" text-anchor="middle" textLength="37.7" lengthAdjust="spacingAndGlyphs">16:45:18</text>
<line x1="844.44" y1="483.25" x2="844.44" y2="487.55" stroke="#2a2a2a" stroke-width="0.9"/>
<text x="844.44" y="600.7" font-size="10.5" fill="#333" text-anchor="middle" textLength="37.7" lengthAdjust="spacingAndGlyphs">16:45:58</text>
<line x1="922.41" y1="483.25" x2="922.41" y2="487.55" stroke="#2a2a2a" stroke-width="0.9"/>
<text x="922.41" y="600.7" font-size="10.5" fill="#333" text-anchor="middle" textLength="37.7" lengthAdjust="spacingAndGlyphs">16:46:38</text>
<line x1="1000.38" y1="483.25" x2="1000.38" y2="487.55" stroke="#2a2a2a" stroke-width="0.9"/>
<text x="1000.38" y="600.7" font-size="10.5" fill="#333" text-anchor="middle" textLength="37.7" lengthAdjust="spacingAndGlyphs">16:47:18</text>
<line x1="1078.35" y1="483.25" x2="1078.35" y2="487.55" stroke="#2a2a2a" stroke-width="0.9"/>
<text x="1078.35" y="600.7" font-size="10.5" fill="#333" text-anchor="middle" textLength="37.7" lengthAdjust="spacingAndGlyphs">16:47:58</text>
<line x1="1156.32" y1="483.25" x2="1156.32" y2="487.55" stroke="#2a2a2a" stroke-width="0.9"/>
<text x="1156.32" y="600.7" font-size="10.5" fill="#333" text-anchor="middle" textLength="37.7" lengthAdjust="spacingAndGlyphs">16:48:38</text>
<line x1="688.5" y1="475.5" x2="1195.3" y2="475.5" stroke="#a9a0b0" stroke-width="0.9" stroke-dasharray="3.4 3.4"/>
<path d="M688.5,478.38 L727.48,482.73 L766.47,405.76 L805.45,474.56 L844.44,483.08 L883.42,474.39 L922.41,483.16 L961.39,478.73 L1000.38,483.08 L1039.36,482.9 L1078.35,482.99 L1117.33,480.99 L1156.32,481.51 L1195.3,483.08 L1195.3,483.25 L688.5,483.25Z" fill="#ff9966" fill-opacity="0.7"/>
<path d="M688.5,478.38 L727.48,482.73 L766.47,405.76 L805.45,474.56 L844.44,483.08 L883.42,474.39 L922.41,483.16 L961.39,478.73 L1000.38,483.08 L1039.36,482.9 L1078.35,482.99 L1117.33,480.99 L1156.32,481.51 L1195.3,483.08" fill="none" stroke="#f0a07a" stroke-width="1.5" stroke-linejoin="bevel"/>
<line x1="688.5" y1="490.54" x2="1195.3" y2="490.54" stroke="#8fb8e0" stroke-width="0.9" stroke-dasharray="3.4 3.4"/>
<path d="M688.5,483.42 L727.48,486.2 L766.47,566.65 L805.45,486.03 L844.44,484.81 L883.42,484.47 L922.41,484.81 L961.39,483.77 L1000.38,484.29 L1039.36,484.29 L1078.35,484.29 L1117.33,483.77 L1156.32,483.94 L1195.3,483.77 L1195.3,483.25 L688.5,483.25Z" fill="#6699cc" fill-opacity="0.7"/>
<path d="M688.5,483.42 L727.48,486.2 L766.47,566.65 L805.45,486.03 L844.44,484.81 L883.42,484.47 L922.41,484.81 L961.39,483.77 L1000.38,484.29 L1039.36,484.29 L1078.35,484.29 L1117.33,483.77 L1156.32,483.94 L1195.3,483.77" fill="none" stroke="#8a97ab" stroke-width="1.5" stroke-linejoin="bevel"/>
<circle cx="688.5" cy="478.38" r="1.5" fill="#fff" stroke="#e8b9a0" stroke-width="0.9"/>
<circle cx="727.48" cy="482.73" r="1.5" fill="#fff" stroke="#e8b9a0" stroke-width="0.9"/>
<circle cx="766.47" cy="405.76" r="1.5" fill="#fff" stroke="#e8b9a0" stroke-width="0.9"/>
<circle cx="805.45" cy="474.56" r="1.5" fill="#fff" stroke="#e8b9a0" stroke-width="0.9"/>
<circle cx="844.44" cy="483.08" r="1.5" fill="#fff" stroke="#e8b9a0" stroke-width="0.9"/>
<circle cx="883.42" cy="474.39" r="1.5" fill="#fff" stroke="#e8b9a0" stroke-width="0.9"/>
<circle cx="922.41" cy="483.16" r="1.5" fill="#fff" stroke="#e8b9a0" stroke-width="0.9"/>
<circle cx="961.39" cy="478.73" r="1.5" fill="#fff" stroke="#e8b9a0" stroke-width="0.9"/>
<circle cx="1000.38" cy="483.08" r="1.5" fill="#fff" stroke="#e8b9a0" stroke-width="0.9"/>
<circle cx="1039.36" cy="482.9" r="1.5" fill="#fff" stroke="#e8b9a0" stroke-width="0.9"/>
<circle cx="1078.35" cy="482.99" r="1.5" fill="#fff" stroke="#e8b9a0" stroke-width="0.9"/>
<circle cx="1117.33" cy="480.99" r="1.5" fill="#fff" stroke="#e8b9a0" stroke-width="0.9"/>
<circle cx="1156.32" cy="481.51" r="1.5" fill="#fff" stroke="#e8b9a0" stroke-width="0.9"/>
<circle cx="1195.3" cy="483.08" r="1.5" fill="#fff" stroke="#e8b9a0" stroke-width="0.9"/>
<circle cx="688.5" cy="483.42" r="1.5" fill="#fff" stroke="#a9b4c6" stroke-width="0.9"/>
<circle cx="727.48" cy="486.2" r="1.5" fill="#fff" stroke="#a9b4c6" stroke-width="0.9"/>
<circle cx="766.47" cy="566.65" r="1.5" fill="#fff" stroke="#a9b4c6" stroke-width="0.9"/>
<circle cx="805.45" cy="486.03" r="1.5" fill="#fff" stroke="#a9b4c6" stroke-width="0.9"/>
<circle cx="844.44" cy="484.81" r="1.5" fill="#fff" stroke="#a9b4c6" stroke-width="0.9"/>
<circle cx="883.42" cy="484.47" r="1.5" fill="#fff" stroke="#a9b4c6" stroke-width="0.9"/>
<circle cx="922.41" cy="484.81" r="1.5" fill="#fff" stroke="#a9b4c6" stroke-width="0.9"/>
<circle cx="961.39" cy="483.77" r="1.5" fill="#fff" stroke="#a9b4c6" stroke-width="0.9"/>
<circle cx="1000.38" cy="484.29" r="1.5" fill="#fff" stroke="#a9b4c6" stroke-width="0.9"/>
<circle cx="1039.36" cy="484.29" r="1.5" fill="#fff" stroke="#a9b4c6" stroke-width="0.9"/>
<circle cx="1078.35" cy="484.29" r="1.5" fill="#fff" stroke="#a9b4c6" stroke-width="0.9"/>
<circle cx="1117.33" cy="483.77" r="1.5" fill="#fff" stroke="#a9b4c6" stroke-width="0.9"/>
<circle cx="1156.32" cy="483.94" r="1.5" fill="#fff" stroke="#a9b4c6" stroke-width="0.9"/>
<circle cx="1195.3" cy="483.77" r="1.5" fill="#fff" stroke="#a9b4c6" stroke-width="0.9"/>
<text x="1200.3" y="478.4" font-size="10.3" fill="#3f8ac8" textLength="35" lengthAdjust="spacingAndGlyphs">4458.32</text>
<text x="1200.3" y="493.44" font-size="10.3" fill="#3f8ac8" textLength="34" lengthAdjust="spacingAndGlyphs">-4196.6</text>
<rect x="1066" y="614.5" width="185" height="9" fill="#e6ecf8" fill-opacity="0.55"/>
</svg>
</body>
</html>
